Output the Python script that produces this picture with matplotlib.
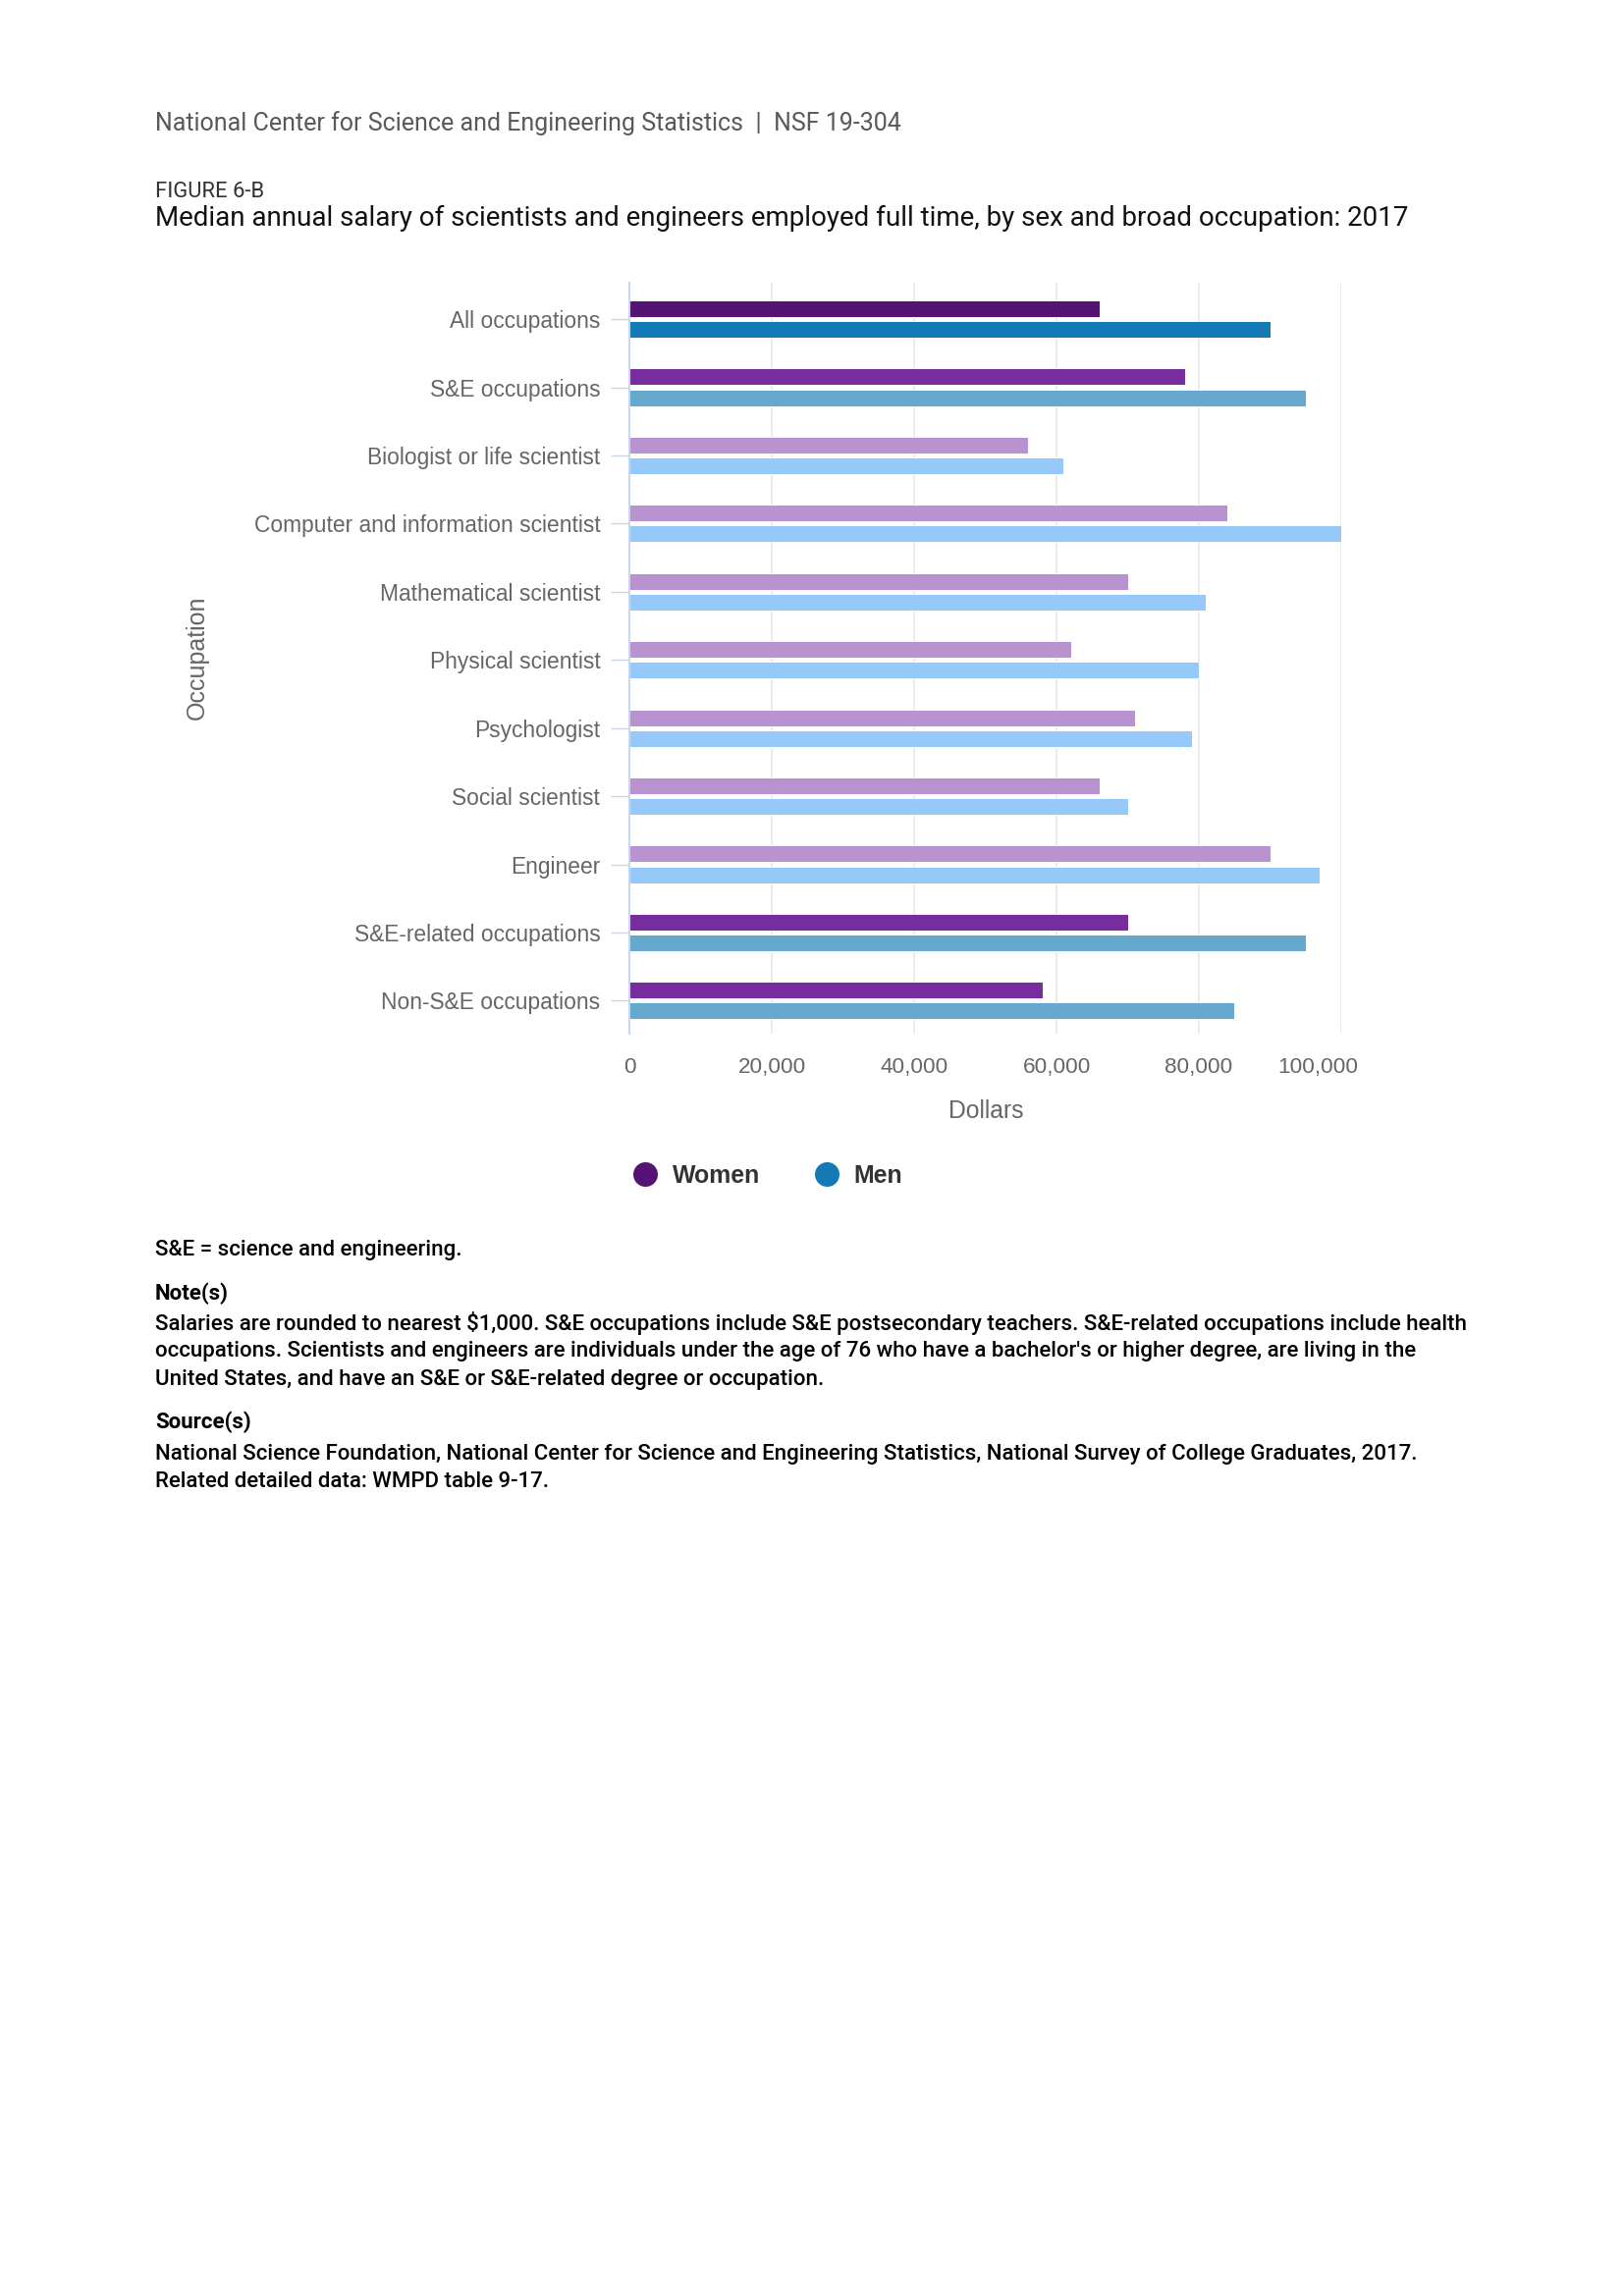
import matplotlib
matplotlib.use("Agg")
import matplotlib.pyplot as plt
from matplotlib.lines import Line2D
from matplotlib.transforms import ScaledTranslation

# ---------------- data ----------------
categories = [
    "All occupations",
    "S&E occupations",
    "Biologist or life scientist",
    "Computer and information scientist",
    "Mathematical scientist",
    "Physical scientist",
    "Psychologist",
    "Social scientist",
    "Engineer",
    "S&E-related occupations",
    "Non-S&E occupations",
]
women = [66000, 78000, 56000, 84000, 70000, 62000, 71000, 66000, 90000, 70000, 58000]
men = [90000, 95000, 61000, 100000, 81000, 80000, 79000, 70000, 97000, 95000, 85000]
tier = ["total", "broad", "detail", "detail", "detail", "detail", "detail", "detail",
        "detail", "broad", "broad"]
x_ticks = [0, 20000, 40000, 60000, 80000, 100000]
x_ticklabels = ["0", "20,000", "40,000", "60,000", "80,000", "100,000"]
series_names = ["Women", "Men"]

# ---------------- style ----------------
women_colors = {"total": "#551474", "broad": "#782d9e", "detail": "#b893cf"}
men_colors = {"total": "#137ab5", "broad": "#65a9cf", "detail": "#96c9f9"}

W, H = 1654, 2339
fig = plt.figure(figsize=(W / 100, H / 100), dpi=100)

def fx(px):
    return px / W

def fy(py):
    return 1 - py / H

ax_left, ax_right, ax_top, ax_bot = 641.3, 1366.0, 288.3, 1052.7
ax = fig.add_axes([fx(ax_left), fy(ax_bot), fx(ax_right - ax_left), (ax_bot - ax_top) / H])

pos = list(range(len(categories)))
bar_h = 0.245
off = 0.152
ax.barh([p - off for p in pos], women, height=bar_h,
        color=[women_colors[t] for t in tier], edgecolor="white", linewidth=0.7, zorder=3)
ax.barh([p + off for p in pos], men, height=bar_h,
        color=[men_colors[t] for t in tier], edgecolor="white", linewidth=0.7, zorder=3)

ax.set_xlim(0, 100000)
ax.set_ylim(10.48, -0.53)

ax.set_xticks(x_ticks)
ax.set_xticklabels(x_ticklabels)
ax.set_yticks(pos)
ax.set_yticklabels(categories)

chart_font = "Liberation Sans"
for lab in ax.get_xticklabels():
    lab.set_fontfamily(chart_font)
    lab.set_fontsize(16.2)
    lab.set_color("#666666")
for lab in ax.get_yticklabels():
    lab.set_fontfamily(chart_font)
    lab.set_fontsize(16.4)
    lab.set_color("#666666")

ax.tick_params(axis="x", length=0, pad=17.5)
ax.tick_params(axis="y", length=13.7, width=1.0, color="#ccd6eb", pad=7.9)

# shift last x label left (justified inside chart)
last = ax.get_xticklabels()[-1]
last.set_horizontalalignment("right")
last.set_transform(last.get_transform() + ScaledTranslation(17 / 100, 0, fig.dpi_scale_trans))

ax.grid(axis="x", color="#e6e6e6", linewidth=1.1, zorder=0)
ax.grid(axis="y", visible=False)
ax.set_axisbelow(True)
for s in ["top", "right", "bottom"]:
    ax.spines[s].set_visible(False)
ax.spines["left"].set_color("#ccd6eb")
ax.spines["left"].set_linewidth(1.5)
ax.spines["left"].set_zorder(4)

# axis titles
fig.text(fx(1004), fy(1132), "Dollars", ha="center", va="center",
         fontfamily=chart_font, fontsize=17.8, color="#666666")
fig.text(fx(201), fy(670), "Occupation", ha="center", va="center", rotation=90,
         fontfamily=chart_font, fontsize=18, color="#666666")

# legend
handles = [
    Line2D([], [], linestyle="none", marker="o", markersize=18, markerfacecolor=women_colors["total"],
           markeredgecolor="none"),
    Line2D([], [], linestyle="none", marker="o", markersize=18, markerfacecolor=men_colors["total"],
           markeredgecolor="none"),
]
leg = fig.legend(handles, series_names, loc="center left", ncol=2,
                 bbox_to_anchor=(fx(645), fy(1198)), bbox_transform=fig.transFigure,
                 frameon=False, borderpad=0, borderaxespad=0, handlelength=1.0,
                 handletextpad=0.62, columnspacing=2.2,
                 prop={"family": chart_font, "weight": "bold", "size": 17.9})
for t in leg.get_texts():
    t.set_color("#333333")

# header texts
hfont = "Roboto"
fig.text(fx(158), fy(125.5), "National Center for Science and Engineering Statistics  |  NSF 19-304",
         ha="left", va="center", fontfamily=hfont, fontsize=18.0, color="#595959")
fig.text(fx(158), fy(195.5), "FIGURE 6-B", ha="left", va="center", fontfamily=hfont,
         fontsize=15.8, color="#333333")
fig.text(fx(158), fy(222.5),
         "Median annual salary of scientists and engineers employed full time, by sex and broad occupation: 2017",
         ha="left", va="center", fontfamily=hfont, fontsize=20.0, color="#111111")

# notes
nsize = 16.0
fig.text(fx(158), fy(1273.5), "S&E = science and engineering.", ha="left", va="center",
         fontfamily=hfont, fontsize=nsize, fontweight="medium", color="#000000")
fig.text(fx(158), fy(1317.5), "Note(s)", ha="left", va="center",
         fontfamily=hfont, fontsize=nsize, fontweight="bold", color="#000000")
note_lines = [
    "Salaries are rounded to nearest $1,000. S&E occupations include S&E postsecondary teachers. S&E-related occupations include health",
    "occupations. Scientists and engineers are individuals under the age of 76 who have a bachelor's or higher degree, are living in the",
    "United States, and have an S&E or S&E-related degree or occupation.",
]
for i, line in enumerate(note_lines):
    fig.text(fx(158), fy(1348.5 + 28.3 * i), line, ha="left", va="center",
             fontfamily=hfont, fontsize=nsize, fontweight="medium", color="#000000")
fig.text(fx(158), fy(1448.5), "Source(s)", ha="left", va="center",
         fontfamily=hfont, fontsize=nsize, fontweight="bold", color="#000000")
source_lines = [
    "National Science Foundation, National Center for Science and Engineering Statistics, National Survey of College Graduates, 2017.",
    "Related detailed data: WMPD table 9-17.",
]
for i, line in enumerate(source_lines):
    fig.text(fx(158), fy(1481.5 + 28.3 * i), line, ha="left", va="center",
             fontfamily=hfont, fontsize=nsize, fontweight="medium", color="#000000")

fig.savefig("out.png", dpi=100, facecolor="white")
